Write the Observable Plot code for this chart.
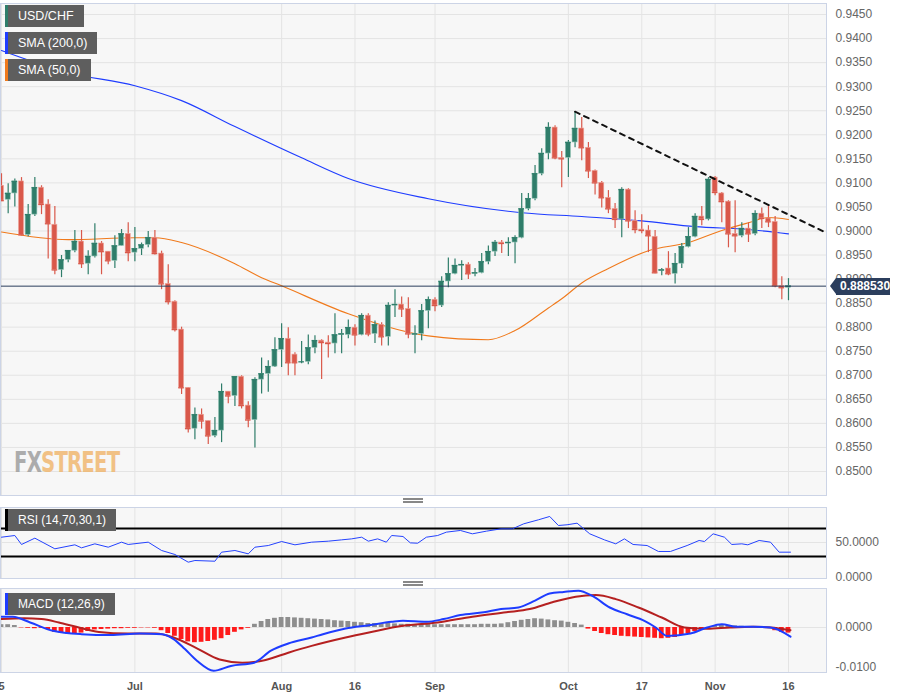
<!DOCTYPE html>
<html><head><meta charset="utf-8">
<script src="https://cdn.jsdelivr.net/npm/d3@7"></script>
<script src="https://cdn.jsdelivr.net/npm/@observablehq/plot@0.6"></script>
<style>
body{margin:0;background:#fff;font-family:"Liberation Sans",Arial,sans-serif;}
#wrap{position:relative;width:898px;height:697px;overflow:hidden;}
.pane{position:absolute;left:0;}
.lab{position:absolute;left:5px;height:22px;background:#5e5e5e;color:#fff;font-size:12.5px;line-height:22px;padding:0 10px 0 13px;box-sizing:border-box;}
.lab i{position:absolute;left:0;top:0;width:3px;height:22px;}
.handle{position:absolute;left:403px;width:20px;height:1.5px;background:#888;}
#price{position:absolute;left:836px;top:278px;height:17px;width:50px;background:#2b3e5d;color:#fff;font-size:12px;font-weight:bold;line-height:17px;padding-left:4px;}
#price:before{content:"";position:absolute;left:-6px;top:0;border-top:8.5px solid transparent;border-bottom:8.5px solid transparent;border-right:6px solid #2b3e5d;}
#wm{position:absolute;left:14px;top:446px;font-size:28px;font-weight:bold;letter-spacing:-1px;font-family:"DejaVu Sans Condensed","Liberation Sans Narrow",sans-serif;transform:scaleX(0.78);transform-origin:left;}
</style></head>
<body><div id="wrap"></div>
<script>
const opens=[.9094,.9065,.9078,.9103,.8992,.9034,.9090,.9055,.9013,.8919,.8940,.8959,.8978,.8932,.8947,.8974,.8957,.8938,.8969,.8994,.8955,.8963,.8971,.8986,.8953,.8890,.8853,.8795,.8674,.8589,.8618,.8605,.8574,.8585,.8666,.8657,.8697,.8637,.8607,.8691,.8703,.8718,.8753,.8776,.8743,.8728,.8728,.8757,.8772,.8768,.8766,.8784,.8784,.8799,.8784,.8824,.8786,.8805,.8780,.8845,.8847,.8838,.8784,.8786,.8834,.8857,.8845,.8895,.8911,.8928,.8930,.8911,.8913,.8936,.8957,.8976,.8974,.8976,.8986,.9046,.9067,.9119,.9161,.9215,.9152,.9152,.9184,.9213,.9173,.9125,.9100,.9069,.9046,.9024,.9086,.9021,.9003,.9001,.8988,.8917,.8922,.8911,.8932,.8967,.8988,.9030,.9024,.9111,.9078,.9061,.8994,.8990,.9005,.8994,.9036,.9026,.9019,.8886,.8882];
const closes=[.9063,.9078,.9103,.8992,.9034,.9090,.9055,.9015,.8919,.8940,.8959,.8978,.8932,.8947,.8974,.8957,.8938,.8969,.8994,.8955,.8963,.8971,.8986,.8953,.8890,.8853,.8795,.8674,.8589,.8618,.8605,.8574,.8585,.8666,.8657,.8697,.8637,.8607,.8691,.8703,.8718,.8753,.8776,.8726,.8726,.8728,.8757,.8772,.8768,.8766,.8784,.8786,.8799,.8784,.8824,.8786,.8805,.8780,.8845,.8847,.8838,.8786,.8786,.8834,.8857,.8845,.8895,.8911,.8928,.8930,.8911,.8913,.8936,.8957,.8976,.8974,.8976,.8986,.9046,.9067,.9119,.9161,.9215,.9152,.9150,.9184,.9213,.9173,.9125,.9100,.9069,.9046,.9024,.9086,.9021,.9003,.9001,.8990,.8913,.8919,.8911,.8932,.8967,.8988,.9030,.9024,.9107,.9080,.9061,.8994,.8990,.9005,.8994,.9036,.9026,.9019,.8886,.8882,.88853];
const highs=[.9119,.9098,.9108,.9111,.9055,.9111,.9094,.9065,.9051,.8949,.8959,.9001,.9001,.8959,.9015,.8978,.8957,.8990,.9003,.9017,.9007,.8975,.8999,.9001,.8958,.8930,.8855,.8800,.8674,.8632,.8630,.8605,.8612,.8682,.8666,.8697,.8699,.8645,.8695,.8736,.8730,.8778,.8807,.8799,.8747,.8770,.8784,.8782,.8774,.8782,.8828,.8795,.8815,.8805,.8828,.8828,.8813,.8809,.8851,.8878,.8863,.8861,.8803,.8847,.8863,.8861,.8905,.8944,.8942,.8938,.8934,.8922,.8953,.8969,.8980,.8980,.8986,.8990,.9078,.9078,.9136,.9171,.9225,.9219,.9165,.9188,.9248,.9236,.9184,.9127,.9103,.9084,.9057,.9090,.9088,.9042,.9034,.9011,.9001,.8922,.8957,.8953,.8974,.9007,.9036,.9051,.9111,.9113,.9080,.9063,.9063,.9017,.9017,.9042,.9048,.9055,.9030,.8905,.8901];
const lows=[.9063,.9036,.9050,.8990,.8988,.9030,.9034,.8942,.8909,.8903,.8934,.8955,.8922,.8909,.8944,.8909,.8930,.8922,.8969,.8936,.8936,.8949,.8965,.8950,.8878,.8846,.8790,.8660,.8580,.8566,.8588,.8556,.8570,.8560,.8641,.8635,.8630,.8591,.8549,.8661,.8665,.8716,.8716,.8699,.8699,.8724,.8722,.8745,.8691,.8736,.8745,.8745,.8776,.8761,.8782,.8780,.8766,.8761,.8761,.8820,.8820,.8776,.8745,.8772,.8797,.8832,.8841,.8882,.8909,.8897,.8899,.8905,.8911,.8930,.8947,.8953,.8947,.8932,.8984,.9042,.9063,.9115,.9148,.9148,.9090,.9111,.9173,.9146,.9109,.9075,.9048,.9036,.9005,.8986,.9005,.8994,.8994,.8955,.8911,.8907,.8907,.8890,.8922,.8965,.8986,.9011,.9021,.9073,.9017,.8965,.8955,.8986,.8976,.8990,.9005,.9007,.8882,.8857,.8855];
const sma200Idx=[0,10,20,27,35,45,52,64,78,87,96,104,112,118];
const sma200Val=[.9375,.9329,.9302,.9271,.9217,.9152,.9109,.9067,.9038,.9030,.9021,.9009,.9003,.8994];
const sma50Idx=[0,10,20,23,27,35,39,42,52,64,73,77,82,84,87,91,97,103,108,112,115,118];
const sma50Val=[.8998,.8982,.8986,.8986,.8976,.8932,.8903,.8886,.8828,.8782,.8774,.8793,.8840,.8859,.8892,.8922,.8959,.8976,.9001,.9017,.9028,.9024];
const trendIdx=[86,123.7], trendVal=[.9248,.8996];
const lastPrice=0.88853;
const rsiIdx=[0,2,3,5,8,11,12,14,16,18,19,22,24,26,28,29,32,33,35,37,38,40,42,44,46.5,49,51,52.5,54,55,56.4,57.7,58.5,60.2,61.3,62.4,63.7,65.4,66.7,68.8,70.6,72.7,74.9,76.6,78.3,80.5,82.2,83.5,84.8,86.3,88.2,90.4,92.1,93.4,94.7,96.8,98.5,100.3,102.8,104.6,105.4,106.7,108.4,109.5,111,111.9,113.6,115.3,116.6,118.3];
const rsiVal=[57.6,60,47.2,56.2,41,46.7,42.4,48.1,43.3,50.5,47.2,50.5,38.6,32.9,21.9,24.3,23.3,36.2,38.6,33.8,43.3,45.7,51.4,46.7,50.5,51.9,53.8,55.2,57.6,51.9,55.2,50.5,60,58.6,49.5,49,57.6,60,64.8,67.2,62.4,66.2,69.5,69.5,76.7,82.4,87.2,74.3,75.3,77.6,62.4,53.8,48.1,55.2,47.2,45.7,37.2,37.2,45.7,52.9,51.4,62.4,57.6,47.2,48.1,46.7,52.9,50.5,36.2,36.2];
const macdIdx=[0,1.7,4.3,7.7,12,16.4,20.7,24.1,25.8,27.5,29.3,31.8,34.4,37.9,40.4,43,46.5,48.2,51.6,55.1,58.5,60.2,63.7,66.3,68.8,72.3,74.9,77.5,80,82.2,84.3,86.5,88.6,91.2,93.8,96.4,98.1,99.8,103.3,105.8,108,110.2,112.7,115.3,118.3];
const macdVal=[.00267,.00267,.00125,-.00083,-.00167,-.0019,-.0015,-.00167,-.0029,-.0054,-.0083,-.0108,-.0096,-.0088,-.0058,-.004,-.0025,-.00167,-.00025,.00058,.00142,.00167,.00142,.0021,.0031,.0038,.0046,.005,.0067,.0085,.0089,.0092,.0079,.005,.0033,.00167,0,-.0021,-.0015,0,.00083,.00017,.00017,0,-.0023];
const sigIdx=[0,3.4,6,8.6,11.2,14.6,18.9,23.2,25.8,29.3,32.7,36.1,39.6,43,46.5,51.6,55.1,60.2,65.4,70.6,75.7,79.2,82.6,86.1,89.1,92.1,95.5,99,102.4,105.8,109.3,112.7,115.3,118.3];
const sigVal=[.0021,.0023,.0021,.00125,.00017,-.0011,-.0015,-.0015,-.0025,-.0052,-.008,-.0088,-.0081,-.0063,-.0046,-.0025,-.00125,.00042,.00125,.0027,.0038,.0046,.0063,.0077,.0081,.0071,.005,.0025,0,-.00033,0,.00017,0,-.00067];
const histVal=[.0007,.0007,.0005,-.0001,-.0002,-.0003,-.0002,-.0005,-.0012,-.0015,-.0017,-.0016,-.0014,-.0010,-.0006,-.0005,-.0004,-.0003,-.0003,-.0002,-.0002,-.0001,-.0001,-.0002,-.0008,-.0015,-.0022,-.0030,-.0036,-.0038,-.0037,-.0035,-.0032,-.0028,-.0020,-.0012,-.0006,-.0002,.0008,.0015,.0020,.0023,.0025,.0025,.0024,.0023,.0022,.0021,.0020,.0019,.0017,.0016,.0015,.0013,.0012,.0010,.0010,.0009,.0010,.0009,.0008,.0008,.0007,.0008,.0008,.0007,.0007,.0007,.0007,.0007,.0007,.0007,.0008,.0008,.0008,.0009,.0012,.0015,.0018,.0020,.0022,.0021,.0019,.0017,.0016,.0013,.0010,.0006,-.0004,-.0010,-.0015,-.0018,-.0020,-.0022,-.0023,-.0024,-.0025,-.0026,-.0027,-.0028,-.0027,-.0025,-.0020,-.0015,-.0010,-.0006,-.0002,.0003,.0005,.0005,.0004,.0003,.0002,.0001,0,.0001,-.0008,-.0012,-.0014];
const tickIdx=[0,20,42,53,65,85,96,107,118];
const tickLabels=["5","Jul","Aug","16","Sep","Oct","17","Nov","16"];
const priceTicks=d3.range(0,20).map(k=>+(0.85+k*0.005).toFixed(4));

const candles=opens.map((o,i)=>({i,o,c:closes[i],h:highs[i],l:lows[i],up:closes[i]>=o}));
const pts=(a,b)=>a.map((x,k)=>({x,y:b[k]}));
const GREEN="#2f7d6a", RED="#d9584a", BORDER="#ccd4e6", BG="#f7f7f7", GRID="#e4e4e4";
const xdom=[-0.15,123.7];
const common={width:898,marginLeft:0,marginRight:72,style:{fontFamily:"Liberation Sans, Arial, sans-serif",background:"transparent",overflow:"visible"}};
const wrap=document.getElementById("wrap");
function add(svg,top){svg.classList.add("pane");svg.style.top=top+"px";wrap.appendChild(svg);}

const main=Plot.plot({...common,height:497,marginTop:3,marginBottom:2,
 x:{domain:xdom,axis:null},
 y:{domain:[0.84501,0.94729],axis:null},
 marks:[
  Plot.frame({fill:BG,stroke:null}),
  Plot.ruleY(priceTicks,{stroke:GRID}),
  Plot.ruleX(tickIdx,{stroke:GRID}),
  Plot.axisY({anchor:"right",ticks:priceTicks,tickFormat:d=>d.toFixed(4),tickSize:0,tickPadding:9,fontSize:12,fill:"#666",label:null}),
  Plot.line(pts(sma200Idx,sma200Val),{x:"x",y:"y",stroke:"#1f3dff",strokeWidth:1.1,curve:"monotone-x"}),
  Plot.line(pts(sma50Idx,sma50Val),{x:"x",y:"y",stroke:"#f07a1c",strokeWidth:1.1,curve:"monotone-x"}),
  Plot.ruleX(candles,{x:"i",y1:"l",y2:"h",stroke:d=>d.up?GREEN:RED,strokeWidth:1.2}),
  Plot.rect(candles,{x1:d=>d.i-0.38,x2:d=>d.i+0.38,y1:"o",y2:"c",fill:d=>d.up?GREEN:RED,stroke:d=>d.up?"#8fc2b3":"#eea79e",strokeWidth:0.6}),
  Plot.ruleY(candles,{x1:d=>d.i-0.42,x2:d=>d.i+0.42,y:"c",stroke:d=>d.up?GREEN:RED,strokeWidth:1.3}),
  Plot.line(pts(trendIdx,trendVal),{x:"x",y:"y",stroke:"#111",strokeWidth:2,strokeDasharray:"5,5"}),
  Plot.ruleY([lastPrice],{stroke:"#2b3e5d",strokeWidth:1}),
  Plot.frame({stroke:BORDER})
 ]});
add(main,0);

const rsi=Plot.plot({...common,height:76,marginTop:3,marginBottom:2,
 x:{domain:xdom,axis:null},
 y:{domain:[-1.4,100],axis:null},
 marks:[
  Plot.frame({fill:BG,stroke:null}),
  Plot.ruleY([50],{stroke:GRID}),
  Plot.ruleX(tickIdx,{stroke:GRID}),
  Plot.axisY({anchor:"right",ticks:[0,50],tickFormat:d=>d.toFixed(4),tickSize:0,tickPadding:9,fontSize:12,fill:"#666",label:null}),
  Plot.ruleY([70,30],{stroke:"#000",strokeWidth:2.2}),
  Plot.line(pts(rsiIdx,rsiVal),{x:"x",y:"y",stroke:"#2442ff",strokeWidth:1}),
  Plot.frame({stroke:BORDER})
 ]});
add(rsi,504);

const hist=histVal.map((v,i)=>({i,v}));
const macd=Plot.plot({...common,height:111,marginTop:1,marginBottom:26,
 x:{domain:xdom,axis:null},
 y:{domain:[-0.01125,0.00975],axis:null},
 marks:[
  Plot.frame({fill:BG,stroke:null}),
  Plot.ruleY([0],{stroke:GRID}),
  Plot.ruleX(tickIdx,{stroke:GRID}),
  Plot.axisY({anchor:"right",ticks:[0,-0.01],tickFormat:d=>d.toFixed(4),tickSize:0,tickPadding:9,fontSize:12,fill:"#666",label:null}),
  Plot.axisX({ticks:tickIdx,tickFormat:d=>tickLabels[tickIdx.indexOf(d)],tickSize:0,tickPadding:10,fontSize:11,fontWeight:"bold",fill:"#555",label:null}),
  Plot.rect(hist,{x1:d=>d.i-0.36,x2:d=>d.i+0.36,y1:0,y2:"v",fill:d=>d.v>=0?"#8e8e8e":"#ff1a1a"}),
  Plot.line(pts(sigIdx,sigVal),{x:"x",y:"y",stroke:"#b52020",strokeWidth:2,curve:"monotone-x"}),
  Plot.line(pts(macdIdx,macdVal),{x:"x",y:"y",stroke:"#1e3cff",strokeWidth:2,curve:"monotone-x"}),
  Plot.frame({stroke:BORDER})
 ]});
add(macd,587);

const html=`
<div class="lab" style="top:5px"><i style="background:#2f7d6a"></i>USD/CHF</div>
<div class="lab" style="top:32px"><i style="background:#1f3dff"></i>SMA (200,0)</div>
<div class="lab" style="top:59px"><i style="background:#f07a1c"></i>SMA (50,0)</div>
<div class="lab" style="top:509px;font-size:12px"><i style="background:#000"></i>RSI (14,70,30,1)</div>
<div class="lab" style="top:593px;font-size:12px"><i style="background:#1e3cff"></i>MACD (12,26,9)</div>
<div class="handle" style="top:498px"></div><div class="handle" style="top:501px"></div>
<div class="handle" style="top:581px"></div><div class="handle" style="top:584px"></div>
<div id="price">0.888530</div>
<div id="wm"><span style="color:#9a9a9a;opacity:.8">FX</span><span style="color:#f0b060;opacity:.75">STREET</span></div>`;
wrap.insertAdjacentHTML("beforeend",html);
</script></body></html>
